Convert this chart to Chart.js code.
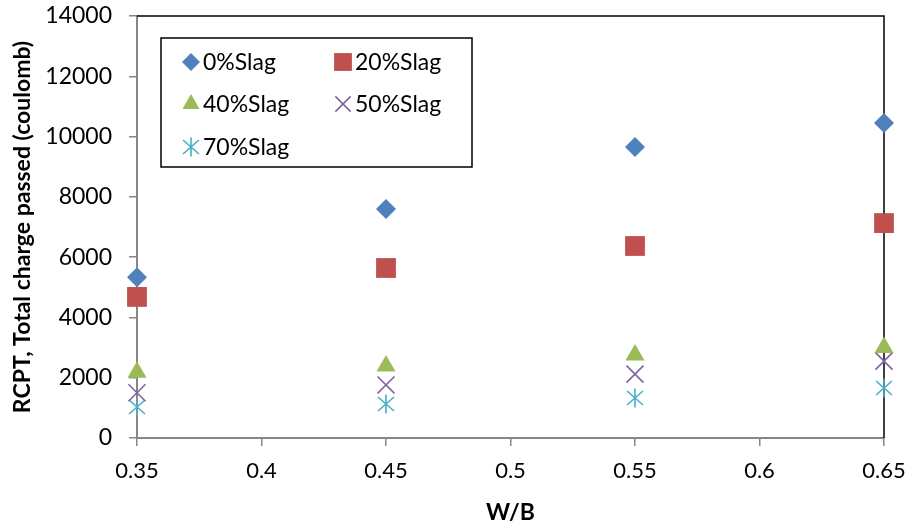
<!DOCTYPE html>
<html>
<head>
<meta charset="utf-8">
<script src="https://cdn.jsdelivr.net/npm/chart.js@4/dist/chart.umd.min.js"></script>
<style>
html, body { margin: 0; padding: 0; background: #fff; }
</style>
</head>
<body>
<canvas id="rcptChart" width="909" height="526"></canvas>
<script>
// datos
const wbRatio = [0.35, 0.45, 0.55, 0.65];
const slag0 = [5330, 7600, 9650, 10450];
const slag20 = [4680, 5640, 6370, 7130];
const slag40 = [2180, 2390, 2750, 3000];
const slag50 = [1500, 1760, 2120, 2550];
const slag70 = [1030, 1130, 1330, 1660];
const seriesNames = ['0%Slag', '20%Slag', '40%Slag', '50%Slag', '70%Slag'];
const xTicks = [0.35, 0.4, 0.45, 0.5, 0.55, 0.6, 0.65];

const fontFamily = 'Lato, "Open Sans", sans-serif';

// asterisco tipo Excel (X + linea vertical)
function makeStar(color) {
    const c = document.createElement('canvas');
    c.width = 20; c.height = 20;
    const g = c.getContext('2d');
    g.strokeStyle = color;
    g.lineWidth = 1.6;
    g.beginPath();
    g.moveTo(2, 3); g.lineTo(18, 17);
    g.moveTo(18, 3); g.lineTo(2, 17);
    g.moveTo(10, 0.5); g.lineTo(10, 19.5);
    g.stroke();
    return c;
}
const starImg = makeStar('#4BACC6');

const toPoints = vals => vals.map((v, i) => ({ x: wbRatio[i], y: v }));

const datasets = [{
    label: seriesNames[0],
    data: toPoints(slag0),
    pointStyle: 'rectRot',
    pointRadius: 10,
    backgroundColor: '#4F81BD',
    borderColor: '#4F81BD',
    borderWidth: 0
}, {
    label: seriesNames[1],
    data: toPoints(slag20),
    pointStyle: 'rect',
    pointRadius: 14,
    backgroundColor: '#C0504D',
    borderColor: '#C0504D',
    borderWidth: 0
}, {
    label: seriesNames[2],
    data: toPoints(slag40),
    pointStyle: 'triangle',
    pointRadius: 11,
    backgroundColor: '#9BBB59',
    borderColor: '#9BBB59',
    borderWidth: 0
}, {
    label: seriesNames[3],
    data: toPoints(slag50),
    pointStyle: 'crossRot',
    pointRadius: 12,
    backgroundColor: '#8064A2',
    borderColor: '#8064A2',
    borderWidth: 1.6
}, {
    label: seriesNames[4],
    data: toPoints(slag70),
    pointStyle: starImg,
    pointRadius: 10,
    backgroundColor: '#4BACC6',
    borderColor: '#4BACC6',
    borderWidth: 1.6
}];
datasets.forEach(ds => { ds.clip = false; });

// borde superior y derecho del area de trazado
const frameBorder = {
    id: 'frameBorder',
    beforeDatasetsDraw(chart) {
        const { ctx, chartArea: a } = chart;
        ctx.save();
        ctx.strokeStyle = '#000';
        ctx.lineWidth = 1.5;
        ctx.beginPath();
        ctx.moveTo(a.left, a.top);
        ctx.lineTo(a.right, a.top);
        ctx.lineTo(a.right, a.bottom);
        ctx.stroke();
        ctx.restore();
    }
};

// leyenda dentro del grafico
const boxLegend = {
    id: 'boxLegend',
    afterDraw(chart) {
        const ctx = chart.ctx;
        const box = { x: 161, y: 38, w: 311, h: 129 };
        ctx.save();
        ctx.fillStyle = '#fff';
        ctx.fillRect(box.x, box.y, box.w, box.h);
        ctx.strokeStyle = '#000';
        ctx.lineWidth = 1.5;
        ctx.strokeRect(box.x, box.y, box.w, box.h);
        const cols = [191, 343];
        const rows = [62, 104, 147];
        ctx.font = '23px ' + fontFamily;
        ctx.textBaseline = 'middle';
        ctx.textAlign = 'left';
        chart.data.datasets.forEach((ds, i) => {
            const mx = cols[i % 2];
            const my = rows[Math.floor(i / 2)];
            ctx.fillStyle = ds.backgroundColor;
            ctx.strokeStyle = ds.borderColor;
            ctx.lineWidth = ds.borderWidth;
            Chart.helpers.drawPoint(ctx, {
                pointStyle: ds.pointStyle,
                radius: ds.pointRadius * 0.9,
                rotation: 0,
                borderWidth: ds.borderWidth
            }, mx, my);
            ctx.fillStyle = '#000';
            ctx.fillText(ds.label, mx + 12, my + 1);
        });
        ctx.restore();
    }
};

new Chart(document.getElementById('rcptChart'), {
    type: 'scatter',
    data: { datasets: datasets },
    options: {
        responsive: false,
        animation: false,
        layout: { padding: { top: 16, right: 25, left: 0, bottom: 0 } },
        plugins: {
            legend: { display: false },
            tooltip: { enabled: false }
        },
        scales: {
            x: {
                type: 'linear',
                min: 0.35,
                max: 0.65,
                afterFit(scale) {
                    scale.height = 88;
                    scale.paddingLeft = 0;
                    scale.paddingRight = 0;
                },
                afterBuildTicks(scale) {
                    scale.ticks = xTicks.map(v => ({ value: v }));
                },
                ticks: {
                    color: '#000',
                    font: { family: fontFamily, size: 22 },
                    padding: 12,
                    callback: v => String(Math.round(v * 100) / 100)
                },
                grid: {
                    drawOnChartArea: false,
                    drawTicks: true,
                    tickLength: 8,
                    color: '#868686',
                    lineWidth: 1.5
                },
                border: { color: '#868686', width: 2 },
                title: {
                    display: true,
                    text: 'W/B',
                    color: '#000',
                    font: { family: fontFamily, size: 23, weight: 'bold' },
                    padding: 0
                }
            },
            y: {
                min: 0,
                max: 14000,
                afterFit(scale) {
                    scale.width = 137;
                    scale.paddingTop = 0;
                    scale.paddingBottom = 0;
                },
                ticks: {
                    stepSize: 2000,
                    color: '#000',
                    font: { family: fontFamily, size: 23 },
                    padding: 17,
                    callback: v => String(v)
                },
                grid: {
                    drawOnChartArea: false,
                    drawTicks: true,
                    tickLength: 8,
                    color: '#868686',
                    lineWidth: 1.5
                },
                border: { color: '#868686', width: 2 },
                title: {
                    display: true,
                    text: 'RCPT, Total charge passed (coulomb)',
                    color: '#000',
                    font: { family: fontFamily, size: 23, weight: 'bold' },
                    padding: { top: 9, bottom: 0 }
                }
            }
        }
    },
    plugins: [frameBorder, boxLegend]
});
</script>
</body>
</html>
